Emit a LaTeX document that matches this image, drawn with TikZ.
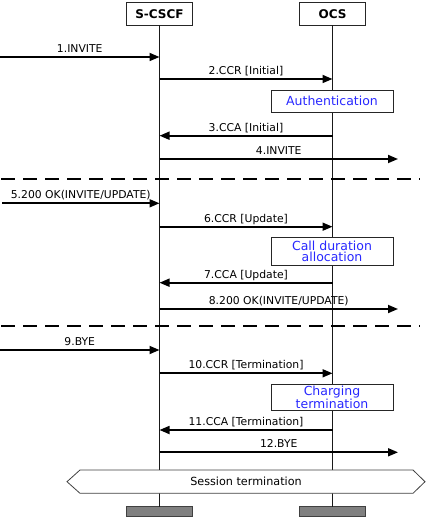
\documentclass[tikz,border=0pt]{standalone}
\usepackage{fontspec}
\setmainfont{DejaVu Sans}
\usetikzlibrary{arrows.meta}
\definecolor{actblue}{RGB}{40,40,255}
\begin{document}
\begin{tikzpicture}[x=1pt,y=-1pt,
  every node/.style={inner sep=0pt,outer sep=0pt},
  head/.style={draw=black!85,line width=0.8pt,fill=white,minimum width=66pt,minimum height=23.5pt,font=\fontsize{12}{14}\selectfont\bfseries},
  foot/.style={draw=black!75,line width=0.8pt,fill=black!50,minimum width=66pt,minimum height=10pt},
  life/.style={line width=0.8pt,draw=black!90},
  msg/.style={line width=1.7pt,-{Triangle[length=10pt,width=8pt]}},
  lbl/.style={anchor=base,yshift=4.5pt,font=\fontsize{10.8}{12}\selectfont},
  act/.style={draw=black!85,line width=0.8pt,fill=white,minimum width=122pt,align=center,text=actblue,font=\fontsize{12.5}{11.5}\selectfont},
  sepline/.style={line width=2pt,dash pattern=on 14pt off 8pt},
  hexa/.style={draw=black!75,line width=0.8pt,fill=white},
]
\useasboundingbox (0,0) rectangle (426,518);
% participants
\node[head] (scscf) at (159.5,13.75) {S-CSCF};
\node[head] (ocs) at (332.5,13.75) {OCS};
\node[foot] (scscfEnd) at (159.5,511.7) {};
\node[foot] (ocsEnd) at (332.5,511.7) {};
\draw[life] (scscf.south) -- (scscfEnd.north);
\draw[life] (ocs.south) -- (ocsEnd.north);
% activity boxes
\node[act,minimum height=22pt] (auth) at (332,101) {Authentication};
\node[act,minimum height=28pt] (alloc) at (332,251.3) {Call duration\\allocation};
\node[act,minimum height=26.3pt] (chterm) at (332,397.2) {Charging\\termination};
% coordinates
\coordinate (l1) at (0,57);      \coordinate (s1) at (159.5,57);
\coordinate (s2) at (159.5,79);  \coordinate (o2) at (332.5,79);
\coordinate (o3) at (332.5,135.7); \coordinate (s3) at (159.5,135.7);
\coordinate (s4) at (159.5,159); \coordinate (r4) at (398,159);
\coordinate (l5) at (2,203.3);   \coordinate (s5) at (159.5,203.3);
\coordinate (s6) at (159.5,226.7); \coordinate (o6) at (332.5,226.7);
\coordinate (o7) at (332.5,282.7); \coordinate (s7) at (159.5,282.7);
\coordinate (s8) at (159.5,309); \coordinate (r8) at (398,309);
\coordinate (l9) at (0,350);     \coordinate (s9) at (159.5,350);
\coordinate (s10) at (159.5,373.3); \coordinate (o10) at (332.5,373.3);
\coordinate (o11) at (332.5,430); \coordinate (s11) at (159.5,430);
\coordinate (s12) at (159.5,452.3); \coordinate (r12) at (398,452.3);
\coordinate (d1a) at (1,179.3); \coordinate (d1b) at (420,179.3);
\coordinate (d2a) at (1,326); \coordinate (d2b) at (420,326);
% messages
\draw[msg] (l1) -- (s1) node[midway,lbl] (t1) {1.INVITE};
\draw[msg] (s2) -- (o2) node[midway,lbl] (t2) {2.CCR [Initial]};
\draw[msg] (o3) -- (s3) node[midway,lbl] (t3) {3.CCA [Initial]};
\draw[msg] (s4) -- (r4) node[midway,lbl] (t4) {4.INVITE};
\draw[sepline] (d1a) -- (d1b);
\draw[msg] (l5) -- (s5) node[midway,lbl] (t5) {5.200 OK(INVITE/UPDATE)};
\draw[msg] (s6) -- (o6) node[midway,lbl] (t6) {6.CCR [Update]};
\draw[msg] (o7) -- (s7) node[midway,lbl] (t7) {7.CCA [Update]};
\draw[msg] (s8) -- (r8) node[midway,lbl] (t8) {8.200 OK(INVITE/UPDATE)};
\draw[sepline] (d2a) -- (d2b);
\draw[msg] (l9) -- (s9) node[midway,lbl] (t9) {9.BYE};
\draw[msg] (s10) -- (o10) node[midway,lbl] (t10) {10.CCR [Termination]};
\draw[msg] (o11) -- (s11) node[midway,lbl] (t11) {11.CCA [Termination]};
\draw[msg] (s12) -- (r12) node[midway,lbl] (t12) {12.BYE};
% session termination
\draw[hexa] (67,481.7) -- (80,470) -- (413,470) -- (425,481.7) -- (413,493.3) -- (80,493.3) -- cycle;
\node[font=\fontsize{11.2}{13}\selectfont] (sess) at (246,481.7) {Session termination};
\end{tikzpicture}
\end{document}
